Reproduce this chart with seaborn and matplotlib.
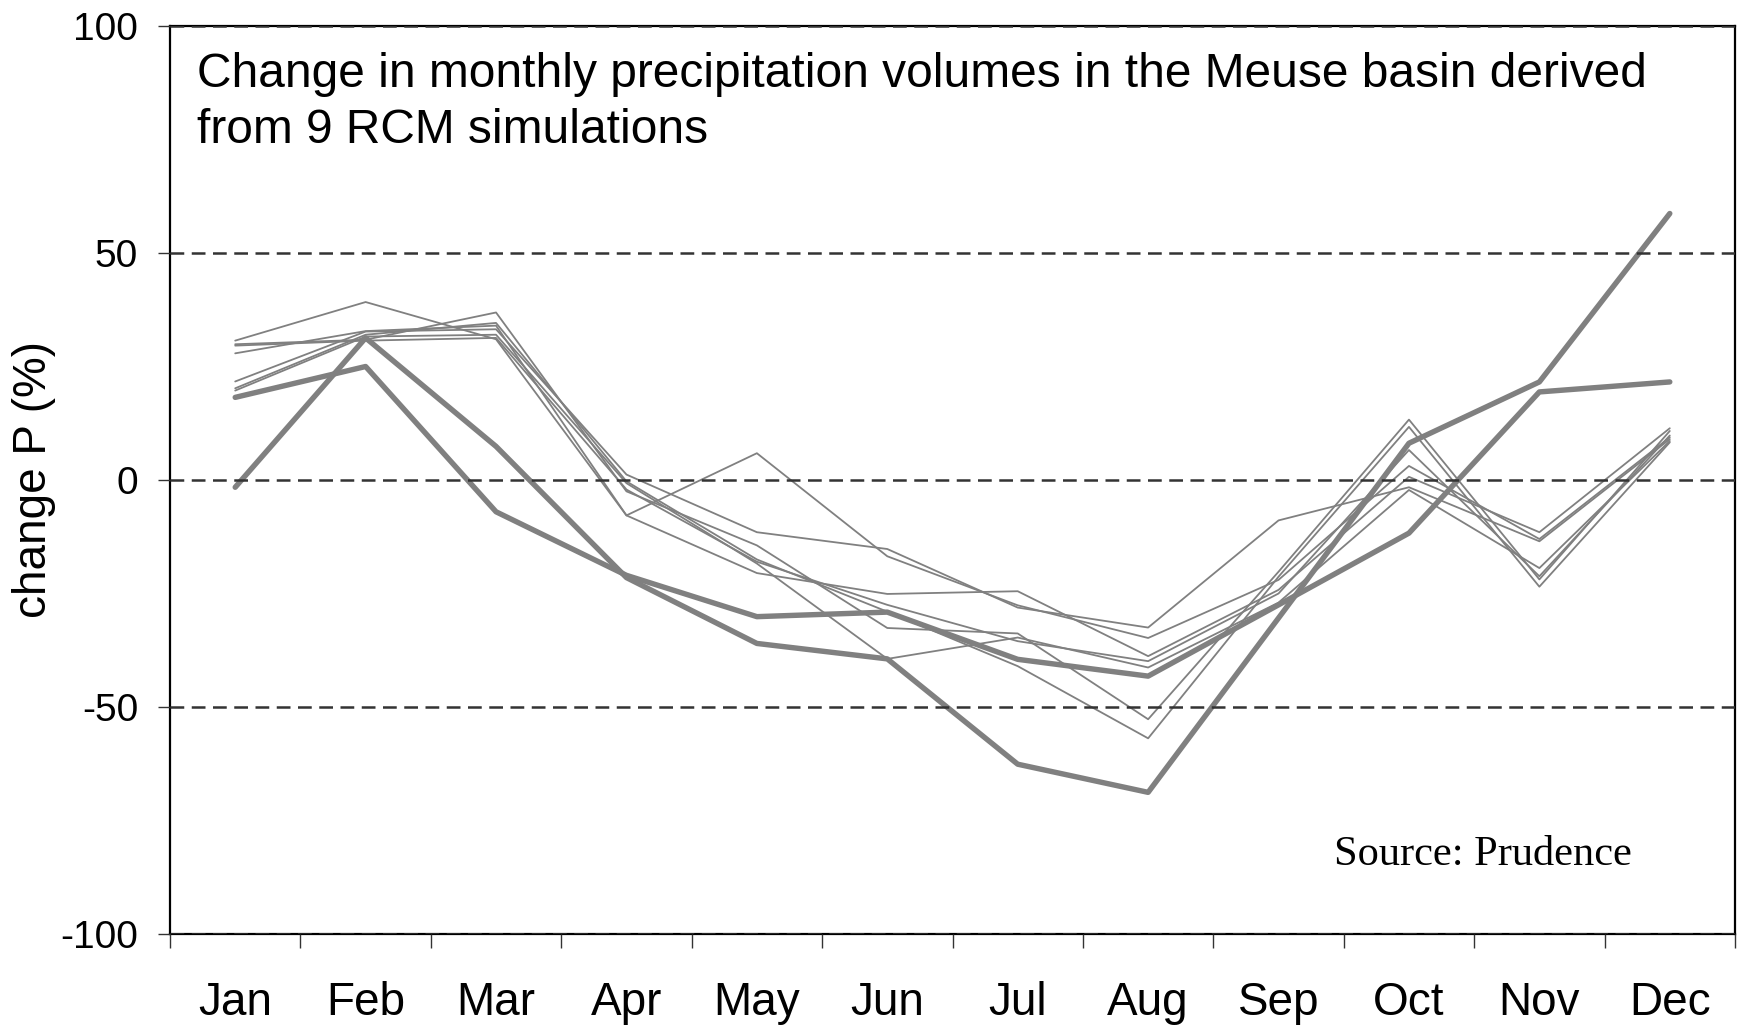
import matplotlib
matplotlib.use("Agg")
import matplotlib.pyplot as plt
import seaborn as sns
import pandas as pd
import numpy as np

# ---------------- data ----------------
months = ["Jan", "Feb", "Mar", "Apr", "May", "Jun",
          "Jul", "Aug", "Sep", "Oct", "Nov", "Dec"]

# thin lines (7 RCM simulations)
rcm1 = [30.7, 39.2, 31.0, -7.8, 5.9, -16.8, -27.6, -34.8, -22.0, 3.1, -13.0, 9.4]
rcm2 = [29.9, 30.9, 36.9, -2.5, -14.4, -32.6, -33.8, -52.7, -20.2, 13.3, -21.9, 10.8]
rcm3 = [27.9, 32.8, 34.0, -7.8, -20.5, -25.1, -24.5, -38.8, -24.2, 0.7, -11.5, 11.4]
rcm4 = [21.7, 32.7, 33.2, 1.2, -11.5, -15.2, -28.1, -32.5, -8.9, -1.6, -13.5, 9.0]
rcm5 = [20.2, 32.0, 34.6, -0.3, -17.5, -29.0, -41.0, -56.9, -21.3, 11.7, -23.5, 8.3]
rcm6 = [19.7, 31.6, 32.0, -0.7, -18.4, -39.4, -34.7, -41.3, -27.0, -2.2, -19.4, 8.6]
rcm7 = [29.6, 30.7, 31.3, -2.1, -18.0, -27.5, -35.5, -39.9, -25.0, 6.6, -21.2, 9.8]

# thick lines (2 highlighted simulations)
rcm8 = [-1.6, 31.3, 7.4, -21.5, -36.0, -39.4, -62.6, -68.8, -30.4, 8.1, 21.6, 58.7]
rcm9 = [18.2, 25.0, -7.0, -21.0, -30.1, -29.1, -39.5, -43.2, -27.5, -11.7, 19.4, 21.6]

thin_names = ["RCM1", "RCM2", "RCM3", "RCM4", "RCM5", "RCM6", "RCM7"]
thin_values = [rcm1, rcm2, rcm3, rcm4, rcm5, rcm6, rcm7]
thick_names = ["RCM8", "RCM9"]
thick_values = [rcm8, rcm9]

y_ticks = [-100, -50, 0, 50, 100]
y_tick_labels = ["-100", "-50", "0", "50", "100"]

title_line1 = "Change in monthly precipitation volumes in the Meuse basin derived"
title_line2 = "from 9 RCM simulations"
source_text = "Source: Prudence"
y_label = "change P (%)"

# ---------------- frame ----------------
def long_frame(names, values):
    rows = []
    for n, vals in zip(names, values):
        for m, v in zip(months, vals):
            rows.append({"month": m, "value": v, "model": n})
    return pd.DataFrame(rows)

df_thin = long_frame(thin_names, thin_values)
df_thick = long_frame(thick_names, thick_values)

# ---------------- style ----------------
sns.set_style("ticks")
plt.rcParams["font.family"] = ["Liberation Sans", "DejaVu Sans"]
plt.rcParams["axes.unicode_minus"] = False
plt.rcParams["text.color"] = "black"
plt.rcParams["axes.labelcolor"] = "black"
plt.rcParams["xtick.color"] = "black"
plt.rcParams["ytick.color"] = "black"

fig = plt.figure(figsize=(17.44, 10.26), dpi=100)
ax = fig.add_axes([170 / 1744, 1 - 934 / 1026, (1735 - 170) / 1744, (934 - 26) / 1026])

line_color = "#808080"
sns.lineplot(data=df_thin, x="month", y="value", units="model", estimator=None,
             sort=False, color=line_color, linewidth=1.3, ax=ax, legend=False)
sns.lineplot(data=df_thick, x="month", y="value", units="model", estimator=None,
             sort=False, color=line_color, linewidth=3.9, ax=ax, legend=False,
             solid_capstyle="round")

ax.set_xlim(-0.5, len(months) - 0.5)
ax.set_ylim(-100, 100)

# x ticks: labels centered, tick marks at category boundaries
ax.set_xticks(np.arange(len(months)))
ax.set_xticklabels(months, fontsize=33)
ax.tick_params(axis="x", which="major", length=0, pad=34)
ax.set_xticks(np.arange(-0.5, len(months), 1.0), minor=True)
ax.tick_params(axis="x", which="minor", length=10, width=1.0, color="#333333",
               direction="out")

ax.set_yticks(y_ticks)
ax.set_yticklabels(y_tick_labels, fontsize=28)
ax.tick_params(axis="y", which="major", length=9, width=1.0, color="#333333",
               direction="out", pad=14)

# dashed horizontal reference lines drawn over the data
ax.set_axisbelow(False)
ax.yaxis.grid(True, linestyle=(0, (5.5, 3.0)), color="#333333", linewidth=1.8)
ax.xaxis.grid(False)

for sp in ax.spines.values():
    sp.set_visible(True)
    sp.set_color("black")
    sp.set_linewidth(1.6)

ax.set_xlabel("")
ax.set_ylabel(y_label, fontsize=33)
ax.yaxis.set_label_coords(-0.073, 0.5)

ax.text(0.0173, 0.9328, title_line1, transform=ax.transAxes, fontsize=34.5,
        ha="left", va="baseline", color="black")
ax.text(0.0173, 0.8711, title_line2, transform=ax.transAxes, fontsize=34.5,
        ha="left", va="baseline", color="black")
ax.text(0.7438, 0.076, source_text, transform=ax.transAxes, fontsize=30.5,
        ha="left", va="baseline", color="black",
        family=["Liberation Serif", "DejaVu Serif"])

fig.savefig("out.png", dpi=100, facecolor="white")
